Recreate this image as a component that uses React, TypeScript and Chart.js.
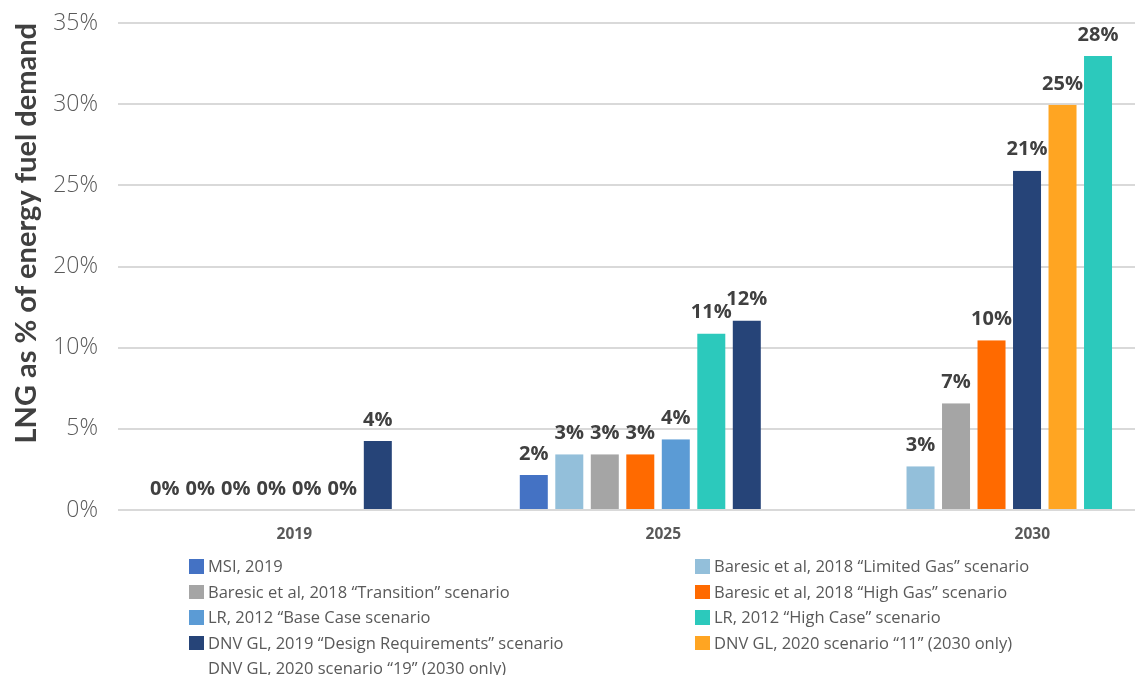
import React, { useEffect, useRef } from "react";
import { Chart, registerables } from "chart.js";

Chart.register(...registerables);

// ---- data ----
const years = ["2019", "2025", "2030"];
const yTickLabels = ["0%", "5%", "10%", "20%", "25%", "30%", "35%"];
const yAxisTitle = "LNG as % of energy fuel demand";

const seriesNames = [
  "MSI, 2019",
  "Baresic et al, 2018 \u201cLimited Gas\u201d scenario",
  "Baresic et al, 2018 \u201cTransition\u201d scenario",
  "Baresic et al, 2018 \u201cHigh Gas\u201d scenario",
  "LR, 2012 \u201cBase Case scenario",
  "LR, 2012 \u201cHigh Case\u201d scenario",
  "DNV GL, 2019 \u201cDesign Requirements\u201d scenario",
  "DNV GL, 2020 scenario \u201c11\u201d (2030 only)",
  "DNV GL, 2020 scenario \u201c19\u201d (2030 only)",
];

const msi = [0, 2.15, null];
const limitedGas = [0, 3.44, 2.7];
const transition = [0, 3.44, 6.58];
const highGas = [0, 3.44, 10.45];
const lrBase = [0, 4.36, null];
const lrHigh = [0, 10.88, null];
const dnvDesign = [4.25, 11.68, 20.9];
const dnv11 = [null, null, 24.96];
const dnv19 = [null, null, 27.97];

const seriesValues = [msi, limitedGas, transition, highGas, lrBase, lrHigh, dnvDesign, dnv11, dnv19];

// ---- styles ----
const seriesColors = [
  "#4472C4",
  "#93BFDA",
  "#A5A5A5",
  "#FF6A00",
  "#5B9BD5",
  "#2CC9BC",
  "#264478",
  "#FFA522",
  "#2CC9BC",
];
const legendSwatchColors = [
  "#4472C4",
  "#93BFDA",
  "#A5A5A5",
  "#FF6A00",
  "#5B9BD5",
  "#2CC9BC",
  "#264478",
  "#FFA522",
  "transparent",
];

const CANVAS_W = 1270;
const CANVAS_H = 560;

const valueLabelPlugin = {
  id: "valueLabels",
  afterDatasetsDraw(chart: any) {
    const ctx = chart.ctx;
    ctx.save();
    ctx.font = "bold 20px 'Open Sans'";
    ctx.fillStyle = "#404040";
    ctx.textAlign = "center";
    ctx.textBaseline = "middle";
    chart.data.datasets.forEach((ds: any, i: number) => {
      const meta = chart.getDatasetMeta(i);
      meta.data.forEach((el: any, j: number) => {
        const v = ds.data[j];
        if (v === null || v === undefined) return;
        ctx.fillText(`${Math.round(v)}%`, el.x, el.y - 21);
      });
    });
    ctx.restore();
  },
};

export default function App() {
  const canvasRef = useRef<HTMLCanvasElement | null>(null);

  useEffect(() => {
    if (!canvasRef.current) return;
    const chart = new Chart(canvasRef.current, {
      type: "bar",
      data: {
        labels: years.map((_, i) => i),
        datasets: seriesValues.map((vals, i) => ({
          label: seriesNames[i],
          data: vals,
          backgroundColor: seriesColors[i],
          borderColor: "rgba(0,0,0,0)",
          borderWidth: { left: 3.75, right: 3.75, top: 0, bottom: 0 },
          barThickness: 35.5,
          inflateAmount: 0,
          skipNull: true,
        })) as any,
      },
      options: {
        responsive: false,
        animation: false,
        devicePixelRatio: 1,
        layout: { padding: { top: 23, bottom: 5, left: 0, right: 0 } },
        plugins: {
          legend: { display: false },
          tooltip: { enabled: false },
        },
        scales: {
          x: {
            type: "linear",
            offset: false,
            min: -0.4155,
            max: 2.7066,
            grid: { display: false },
            border: { display: false },
            afterBuildTicks: (scale: any) => {
              scale.ticks = years.map((_, i) => ({ value: i }));
            },
            afterFit: (scale: any) => {
              scale.height = 45;
            },
            ticks: {
              autoSkip: false,
              maxRotation: 0,
              padding: 7,
              labelOffset: 23,
              color: "#595959",
              font: { family: "'Open Sans'", size: 15.5, weight: "bold" },
              callback: (value: any) => years[value as number] ?? "",
            },
          },
          y: {
            min: 0,
            max: 30,
            grid: { color: "#D9D9D9", lineWidth: 2, drawTicks: false },
            border: { display: false },
            afterFit: (scale: any) => {
              scale.width = 118;
              scale.paddingTop = 0;
              scale.paddingBottom = 0;
            },
            ticks: {
              stepSize: 5,
              padding: 20,
              color: "#595959",
              font: { family: "'Open Sans'", size: 23, weight: 300 },
              callback: (_v: any, index: number) => yTickLabels[index] ?? "",
            },
            title: {
              display: true,
              text: yAxisTitle,
              align: "end",
              color: "#404040",
              padding: { top: 9, bottom: 0 },
              font: { family: "Lato", size: 29, weight: "bold" },
            },
          },
        } as any,
      },
      plugins: [valueLabelPlugin],
    });
    return () => chart.destroy();
  }, []);

  return (
    <div
      style={{
        position: "fixed",
        left: 0,
        top: 0,
        width: 1135,
        height: 675,
        overflow: "hidden",
        background: "#fff",
      }}
    >
      <canvas
        ref={canvasRef}
        width={CANVAS_W}
        height={CANVAS_H}
        style={{ position: "absolute", left: 0, top: 0, width: CANVAS_W, height: CANVAS_H, display: "block" }}
      />
      <div
        style={{
          position: "absolute",
          left: 189,
          top: 554,
          display: "grid",
          gridTemplateColumns: "506px 430px",
          gridAutoRows: "25.4px",
          fontFamily: "'Open Sans', sans-serif",
          fontSize: 16.5,
          color: "#595959",
        }}
      >
        {seriesNames.map((name, i) => (
          <div key={name} style={{ display: "flex", alignItems: "center", whiteSpace: "nowrap" }}>
            <span
              style={{
                display: "inline-block",
                width: 14.5,
                height: 14.5,
                marginRight: 4.5,
                background: legendSwatchColors[i],
                flex: "none",
              }}
            />
            <span style={{ lineHeight: 1 }}>{name}</span>
          </div>
        ))}
      </div>
    </div>
  );
}
